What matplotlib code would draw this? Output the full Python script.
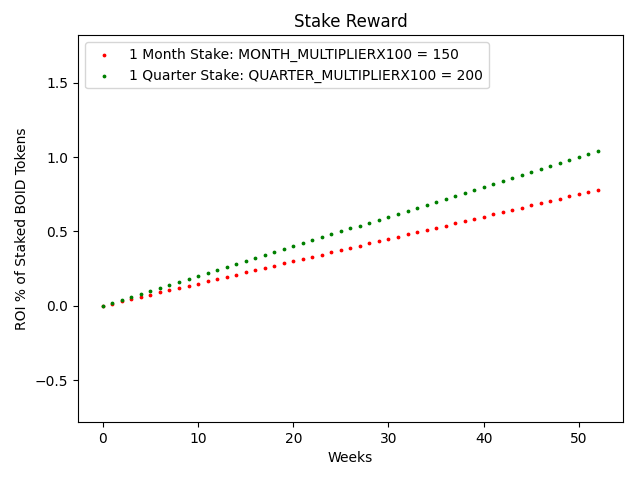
import matplotlib
matplotlib.use("Agg")
import matplotlib.pyplot as plt

weeks = list(range(53))
month_roi = [0.0, 0.015, 0.03, 0.045, 0.06, 0.075, 0.09, 0.105, 0.12, 0.135,
             0.15, 0.165, 0.18, 0.195, 0.21, 0.225, 0.24, 0.255, 0.27, 0.285,
             0.3, 0.315, 0.33, 0.345, 0.36, 0.375, 0.39, 0.405, 0.42, 0.435,
             0.45, 0.465, 0.48, 0.495, 0.51, 0.525, 0.54, 0.555, 0.57, 0.585,
             0.6, 0.615, 0.63, 0.645, 0.66, 0.675, 0.69, 0.705, 0.72, 0.735,
             0.75, 0.765, 0.78]
quarter_roi = [0.0, 0.02, 0.04, 0.06, 0.08, 0.1, 0.12, 0.14, 0.16, 0.18,
               0.2, 0.22, 0.24, 0.26, 0.28, 0.3, 0.32, 0.34, 0.36, 0.38,
               0.4, 0.42, 0.44, 0.46, 0.48, 0.5, 0.52, 0.54, 0.56, 0.58,
               0.6, 0.62, 0.64, 0.66, 0.68, 0.7, 0.72, 0.74, 0.76, 0.78,
               0.8, 0.82, 0.84, 0.86, 0.88, 0.9, 0.92, 0.94, 0.96, 0.98,
               1.0, 1.02, 1.04]
labels = ["1 Month Stake: MONTH_MULTIPLIERX100 = 150",
          "1 Quarter Stake: QUARTER_MULTIPLIERX100 = 200"]

fig, ax = plt.subplots(figsize=(6.4, 4.8), dpi=100)
ax.scatter(weeks, month_roi, s=3, c="red", label=labels[0])
ax.scatter(weeks, quarter_roi, s=3, c="green", label=labels[1])
ax.set_ylim(-0.78, 1.82)
ax.set_title("Stake Reward")
ax.set_xlabel("Weeks")
ax.set_ylabel("ROI % of Staked BOID Tokens")
ax.legend(loc="upper left")
fig.subplots_adjust(left=0.122, right=0.973, top=0.927, bottom=0.121)
fig.savefig("out.png")
